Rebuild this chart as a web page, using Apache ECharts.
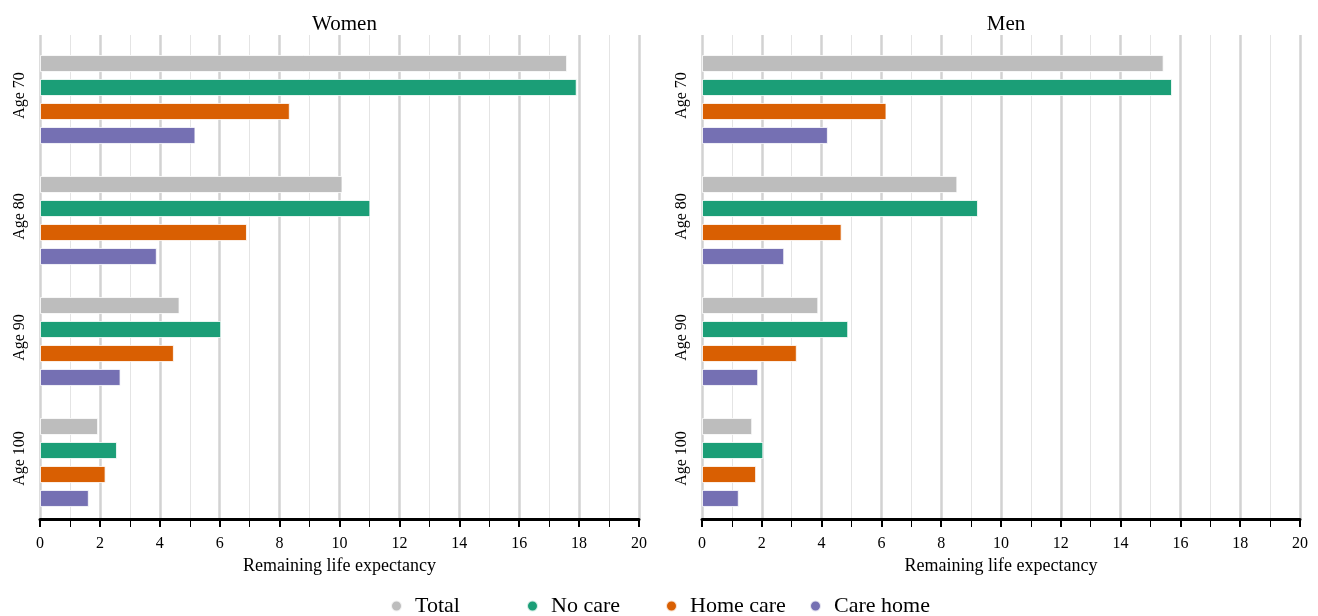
<!DOCTYPE html>
<html><head><meta charset="utf-8">
<script src="https://cdn.jsdelivr.net/npm/echarts@6/dist/echarts.min.js"></script>
<style>html,body{margin:0;padding:0;background:#fff}#c{width:1318px;height:616px}</style>
</head><body><div id="c"></div>
<script>
const categories = ['Age 70', 'Age 80', 'Age 90', 'Age 100'];
const seriesNames = ['Total', 'No care', 'Home care', 'Care home'];
const colors = ['#bdbdbd', '#1b9e77', '#d95f02', '#7570b3'];
const panels = ['Women', 'Men'];
const xTicks = [0, 2, 4, 6, 8, 10, 12, 14, 16, 18, 20];

const womenTotal = [17.6, 10.1, 4.66, 1.94];
const womenNoCare = [17.92, 11.03, 6.05, 2.57];
const womenHomeCare = [8.34, 6.91, 4.47, 2.19];
const womenCareHome = [5.19, 3.9, 2.69, 1.63];

const menTotal = [15.44, 8.54, 3.89, 1.68];
const menNoCare = [15.72, 9.23, 4.89, 2.05];
const menHomeCare = [6.17, 4.67, 3.17, 1.81];
const menCareHome = [4.21, 2.75, 1.88, 1.23];

const data = [[womenTotal, womenNoCare, womenHomeCare, womenCareHome],
              [menTotal, menNoCare, menHomeCare, menCareHome]];

const FONT = 'Liberation Serif';
const panelX = [{left: 40, width: 599}, {left: 702, width: 598}];
// display grids (axes, gridlines, labels) and bar grids
const grids = [
  {left: 40, width: 599, top: 35, bottom: 97},
  {left: 702, width: 598, top: 35, bottom: 97},
  {left: 40, width: 599, top: 39, bottom: 93},
  {left: 702, width: 598, top: 39, bottom: 93}
];

const xAxes = [];
const yAxes = [];
[0, 1].forEach(i => {
  xAxes.push({
    type: 'value', gridIndex: i, min: 0, max: 20, interval: 2,
    name: 'Remaining life expectancy', nameLocation: 'middle', nameGap: 38,
    nameTextStyle: {fontFamily: FONT, fontSize: 18, color: '#000'},
    axisLine: {show: true, lineStyle: {color: '#000', width: 3}},
    axisTick: {show: true, length: 8, lineStyle: {color: '#000', width: 2}},
    minorTick: {show: true, splitNumber: 2, length: 8, lineStyle: {color: '#000', width: 1}},
    axisLabel: {fontFamily: FONT, fontSize: 16, color: '#000', margin: 17,
      formatter: v => xTicks.includes(v) ? String(v) : ''},
    splitLine: {show: true, lineStyle: {color: '#d2d2d2', width: 2.5}},
    minorSplitLine: {show: true, lineStyle: {color: '#e4e4e4', width: 1}}
  });
  yAxes.push({
    type: 'category', gridIndex: i, data: categories, inverse: true,
    axisLine: {show: false}, axisTick: {show: false},
    axisLabel: {rotate: 90, fontFamily: FONT, fontSize: 16, color: '#000', margin: 12}
  });
});
[2, 3].forEach(i => {
  xAxes.push({type: 'value', gridIndex: i, min: 0, max: 20, show: false});
  yAxes.push({type: 'category', gridIndex: i, data: categories, inverse: true, show: false});
});

const series = [];
panels.forEach((p, pi) => {
  seriesNames.forEach((s, si) => {
    series.push({
      type: 'bar', name: s, xAxisIndex: pi + 2, yAxisIndex: pi + 2,
      data: data[pi][si], barWidth: 17, barGap: '41%',
      itemStyle: {color: colors[si], borderColor: 'rgba(255,255,255,0.8)', borderWidth: 1}
    });
  });
});

const legendLeft = [390, 526, 665, 809];
const legends = seriesNames.map((s, i) => ({
  data: [s], left: legendLeft[i], top: 595, padding: 0, icon: 'circle',
  itemWidth: 11, itemHeight: 11,
  textStyle: {fontFamily: FONT, fontSize: 22, color: '#000', padding: [0, 0, 0, 8]}
}));

const chart = echarts.init(document.getElementById('c'), null, {renderer: 'canvas'});
chart.setOption({
  animation: false,
  color: colors,
  title: panels.map((p, i) => ({
    text: p, left: panelX[i].left + panelX[i].width / 2, top: 9, textAlign: 'center',
    textStyle: {fontFamily: FONT, fontSize: 21, fontWeight: 'normal', color: '#000'}
  })),
  legend: legends,
  grid: grids,
  xAxis: xAxes,
  yAxis: yAxes,
  series: series
});
</script></body></html>
